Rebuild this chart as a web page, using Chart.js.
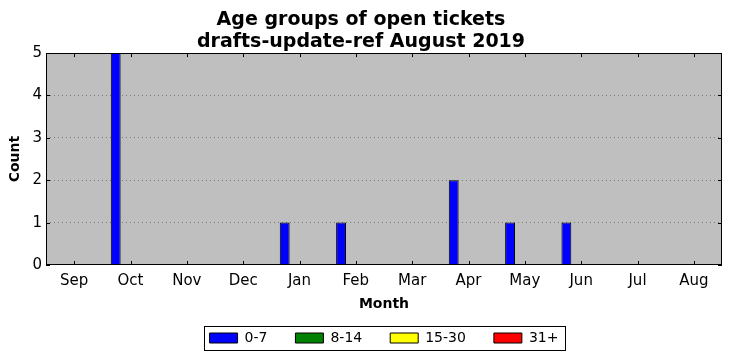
<!DOCTYPE html>
<html>
<head>
<meta charset="utf-8">
<script src="https://cdn.jsdelivr.net/npm/chart.js@4/dist/chart.umd.min.js"></script>
<style>
  html, body { margin: 0; padding: 0; background: #fff; }
  #wrap { width: 732px; height: 361px; }
</style>
</head>
<body>
<div id="wrap"><canvas id="chart" width="732" height="361"></canvas></div>
<script>
var months = ["Sep", "Oct", "Nov", "Dec", "Jan", "Feb", "Mar", "Apr", "May", "Jun", "Jul", "Aug"];
var age0to7   = [0, 5, 0, 0, 1, 1, 0, 2, 1, 1, 0, 0];
var age8to14  = [0, 0, 0, 0, 0, 0, 0, 0, 0, 0, 0, 0];
var age15to30 = [0, 0, 0, 0, 0, 0, 0, 0, 0, 0, 0, 0];
var age31plus = [0, 0, 0, 0, 0, 0, 0, 0, 0, 0, 0, 0];
var yTicks = [0, 1, 2, 3, 4, 5];

var FONT = "'DejaVu Sans', sans-serif";

// matplotlib-like frame, inward ticks and legend border
var framePlugin = {
	id: 'frame',
	beforeDatasetsDraw: function(chart) {
		var c = chart.ctx, a = chart.chartArea;
		c.save();
		c.strokeStyle = '#000';
		c.lineWidth = 1;
		var x = chart.scales.x, y = chart.scales.y;
		for (var i = 0; i < x.ticks.length; i++) {
			var px = Math.round(x.getPixelForTick(i)) + 0.5;
			c.beginPath();
			c.moveTo(px, a.bottom); c.lineTo(px, a.bottom - 4);
			c.moveTo(px, a.top); c.lineTo(px, a.top + 4);
			c.stroke();
		}
		for (var j = 0; j < y.ticks.length; j++) {
			var py = Math.round(y.getPixelForTick(j)) + 0.5;
			c.beginPath();
			c.moveTo(a.left, py); c.lineTo(a.left + 4, py);
			c.moveTo(a.right, py); c.lineTo(a.right - 4, py);
			c.stroke();
		}
		c.restore();
	},
	afterDraw: function(chart) {
		var c = chart.ctx, a = chart.chartArea;
		c.save();
		c.strokeStyle = '#000';
		c.lineWidth = 1;
		c.strokeRect(Math.round(a.left) + 0.5, Math.round(a.top) + 0.5,
			Math.round(a.right - a.left) - 1, Math.round(a.bottom - a.top) - 1);
		var hb = chart.legend.legendHitBoxes;
		if (hb && hb.length) {
			var first = hb[0], last = hb[hb.length - 1];
			var lx = Math.round(first.left) - 6;
			var rx = Math.round(last.left + last.width) + 7;
			var cy = first.top + first.height / 2;
			c.strokeRect(lx + 0.5, Math.round(cy - 12) + 0.5, rx - lx, 24);
		}
		c.restore();
	}
};

var bgPlugin = {
	id: 'plotbg',
	beforeDraw: function(chart) {
		var c = chart.ctx, a = chart.chartArea;
		c.save();
		c.fillStyle = '#bfbfbf';
		c.fillRect(a.left, a.top, a.right - a.left, a.bottom - a.top);
		c.restore();
	}
};

function ds(label, data, color) {
	return {
		label: label,
		data: data,
		backgroundColor: color,
		borderColor: '#000',
		borderWidth: 1,
		categoryPercentage: 0.7,
		barPercentage: 1.0
	};
}

var ctx = document.getElementById("chart");
var myChart = new Chart(ctx, {
	type: 'bar',
	data: {
		labels: months,
		datasets: [
			ds('0-7', age0to7, '#0000ff'),
			ds('8-14', age8to14, '#008000'),
			ds('15-30', age15to30, '#ffff00'),
			ds('31+', age31plus, '#ff0000')
		]
	},
	options: {
		responsive: false,
		animation: false,
		layout: { padding: { left: 0, right: 10, top: 0, bottom: 6 } },
		plugins: {
			title: {
				display: true,
				text: ["Age groups of open tickets", "drafts-update-ref August 2019"],
				color: '#000',
				font: { family: FONT, size: 19, weight: 'bold', lineHeight: 1.16 },
				padding: { top: 9, bottom: 0 }
			},
			legend: {
				position: 'bottom',
				fullSize: false,
				labels: {
					color: '#000',
					font: { family: FONT, size: 14 },
					boxWidth: 28,
					boxHeight: 10,
					padding: 28
				}
			},
			tooltip: { enabled: false }
		},
		scales: {
			x: {
				afterFit: function(scale) { scale.height = 38; },
				grid: { display: false, drawTicks: false },
				border: { display: false },
				ticks: { color: '#000', font: { family: FONT, size: 15 }, padding: 7, maxRotation: 0 },
				title: { display: true, text: 'Month', color: '#000', font: { family: FONT, size: 14, weight: 'bold' }, padding: { top: 0, bottom: -10 } }
			},
			y: {
				min: 0,
				max: 5,
				afterBuildTicks: function(scale) {
					scale.ticks = yTicks.map(function(v) { return { value: v }; });
				},
				afterFit: function(scale) { scale.width = 46; },
				grid: {
					drawTicks: false,
					color: function(c) { return (c.tick.value === 0 || c.tick.value === 5) ? 'rgba(0,0,0,0)' : '#7a7a7a'; },
					lineWidth: 1
				},
				border: { display: false, dash: [1, 3] },
				ticks: { color: '#000', font: { family: FONT, size: 15 }, padding: 4 },
				title: { display: true, text: 'Count', color: '#000', font: { family: FONT, size: 14, weight: 'bold' }, padding: { top: 7, bottom: 0 } }
			}
		}
	},
	plugins: [bgPlugin, framePlugin]
});
</script>
</body>
</html>
